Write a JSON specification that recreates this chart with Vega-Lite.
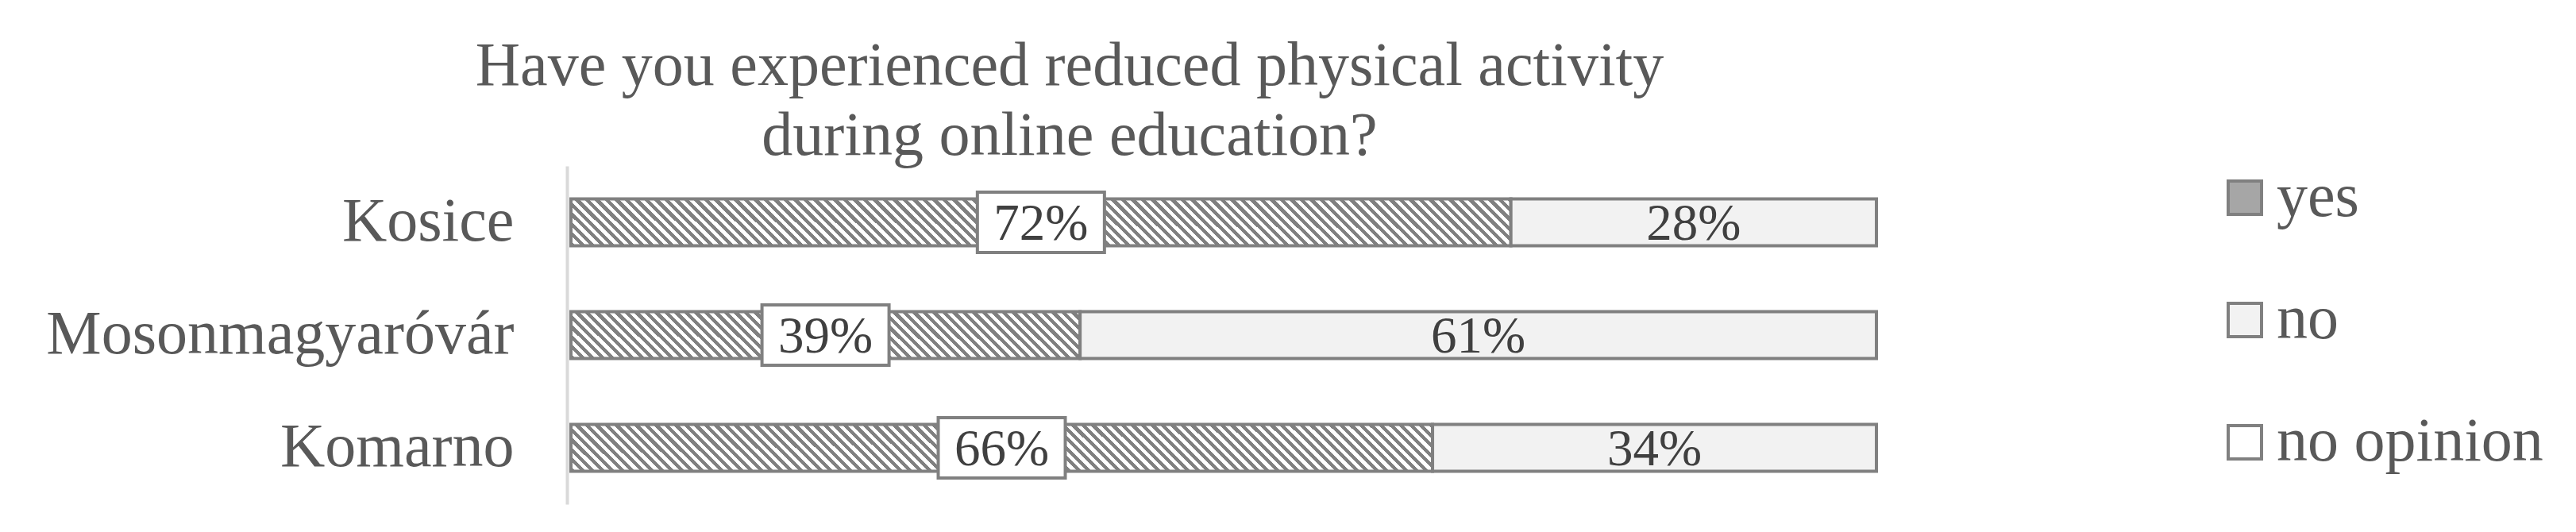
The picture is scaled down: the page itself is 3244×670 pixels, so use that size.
{
  "$schema": "https://vega.github.io/schema/vega-lite/v6.json",
  "width": 1644,
  "height": 426,
  "autosize": {"type": "none"},
  "padding": {"left": 719, "top": 209, "right": 881, "bottom": 35},
  "background": "white",
  "config": {"view": {"stroke": null}, "font": "Liberation Serif"},
  "title": {
    "text": ["Have you experienced reduced physical activity", "during online education?"],
    "fontSize": 78,
    "font": "Liberation Serif",
    "fontWeight": "normal",
    "color": "#595959",
    "anchor": "middle",
    "frame": "group",
    "dx": -194,
    "offset": -2,
    "lineHeight": 88
  },
  "data": {
    "values": [
      {"city": "Kosice", "answer": "yes", "share": 0.72},
      {"city": "Kosice", "answer": "no", "share": 0.28},
      {"city": "Mosonmagyaróvár", "answer": "yes", "share": 0.39},
      {"city": "Mosonmagyaróvár", "answer": "no", "share": 0.61},
      {"city": "Komarno", "answer": "yes", "share": 0.66},
      {"city": "Komarno", "answer": "no", "share": 0.34}
    ]
  },
  "encoding": {
    "y": {
      "field": "city",
      "type": "nominal",
      "sort": null,
      "scale": {"paddingInner": 0.585, "paddingOuter": 0.2925},
      "axis": {
        "title": null,
        "labelFontSize": 78,
        "labelFont": "Liberation Serif",
        "labelColor": "#595959",
        "ticks": false,
        "tickSize": 0,
        "domainColor": "#d9d9d9",
        "domainWidth": 4,
        "offset": 5,
        "labelPadding": 67,
        "labelLimit": 0,
        "grid": false
      }
    },
    "x": {
      "field": "share",
      "type": "quantitative",
      "stack": "zero",
      "scale": {"domain": [0, 1]},
      "axis": null
    },
    "order": {"field": "answer", "sort": "descending"}
  },
  "layer": [
    {
      "mark": {"type": "bar", "stroke": "#808080", "strokeWidth": 4},
      "encoding": {
        "fill": {
          "field": "answer",
          "type": "nominal",
          "condition": [
            {"test": "datum.answer === 'yes' && datum.city === 'Kosice'", "value": {"gradient": "linear", "x1": 0, "y1": 1, "x2": 1.0534, "y2": 0.9475, "stops": [
              {"offset":0,"color":"gray"},{"offset":0.005,"color":"gray"},{"offset":0.005,"color":"#fff"},{"offset":0.01,"color":"#fff"},
              {"offset":0.01,"color":"gray"},{"offset":0.015,"color":"gray"},{"offset":0.015,"color":"#fff"},{"offset":0.02,"color":"#fff"},
              {"offset":0.02,"color":"gray"},{"offset":0.025,"color":"gray"},{"offset":0.025,"color":"#fff"},{"offset":0.03,"color":"#fff"},
              {"offset":0.03,"color":"gray"},{"offset":0.035,"color":"gray"},{"offset":0.035,"color":"#fff"},{"offset":0.04,"color":"#fff"},
              {"offset":0.04,"color":"gray"},{"offset":0.045,"color":"gray"},{"offset":0.045,"color":"#fff"},{"offset":0.05,"color":"#fff"},
              {"offset":0.05,"color":"gray"},{"offset":0.055,"color":"gray"},{"offset":0.055,"color":"#fff"},{"offset":0.06,"color":"#fff"},
              {"offset":0.06,"color":"gray"},{"offset":0.065,"color":"gray"},{"offset":0.065,"color":"#fff"},{"offset":0.07,"color":"#fff"},
              {"offset":0.07,"color":"gray"},{"offset":0.075,"color":"gray"},{"offset":0.075,"color":"#fff"},{"offset":0.08,"color":"#fff"},
              {"offset":0.08,"color":"gray"},{"offset":0.085,"color":"gray"},{"offset":0.085,"color":"#fff"},{"offset":0.09,"color":"#fff"},
              {"offset":0.09,"color":"gray"},{"offset":0.095,"color":"gray"},{"offset":0.095,"color":"#fff"},{"offset":0.1,"color":"#fff"},
              {"offset":0.1,"color":"gray"},{"offset":0.105,"color":"gray"},{"offset":0.105,"color":"#fff"},{"offset":0.11,"color":"#fff"},
              {"offset":0.11,"color":"gray"},{"offset":0.115,"color":"gray"},{"offset":0.115,"color":"#fff"},{"offset":0.12,"color":"#fff"},
              {"offset":0.12,"color":"gray"},{"offset":0.125,"color":"gray"},{"offset":0.125,"color":"#fff"},{"offset":0.13,"color":"#fff"},
              {"offset":0.13,"color":"gray"},{"offset":0.135,"color":"gray"},{"offset":0.135,"color":"#fff"},{"offset":0.14,"color":"#fff"},
              {"offset":0.14,"color":"gray"},{"offset":0.145,"color":"gray"},{"offset":0.145,"color":"#fff"},{"offset":0.15,"color":"#fff"},
              {"offset":0.15,"color":"gray"},{"offset":0.155,"color":"gray"},{"offset":0.155,"color":"#fff"},{"offset":0.16,"color":"#fff"},
              {"offset":0.16,"color":"gray"},{"offset":0.165,"color":"gray"},{"offset":0.165,"color":"#fff"},{"offset":0.17,"color":"#fff"},
              {"offset":0.17,"color":"gray"},{"offset":0.175,"color":"gray"},{"offset":0.175,"color":"#fff"},{"offset":0.18,"color":"#fff"},
              {"offset":0.18,"color":"gray"},{"offset":0.185,"color":"gray"},{"offset":0.185,"color":"#fff"},{"offset":0.19,"color":"#fff"},
              {"offset":0.19,"color":"gray"},{"offset":0.195,"color":"gray"},{"offset":0.195,"color":"#fff"},{"offset":0.2,"color":"#fff"},
              {"offset":0.2,"color":"gray"},{"offset":0.205,"color":"gray"},{"offset":0.205,"color":"#fff"},{"offset":0.21,"color":"#fff"},
              {"offset":0.21,"color":"gray"},{"offset":0.215,"color":"gray"},{"offset":0.215,"color":"#fff"},{"offset":0.22,"color":"#fff"},
              {"offset":0.22,"color":"gray"},{"offset":0.225,"color":"gray"},{"offset":0.225,"color":"#fff"},{"offset":0.23,"color":"#fff"},
              {"offset":0.23,"color":"gray"},{"offset":0.235,"color":"gray"},{"offset":0.235,"color":"#fff"},{"offset":0.24,"color":"#fff"},
              {"offset":0.24,"color":"gray"},{"offset":0.245,"color":"gray"},{"offset":0.245,"color":"#fff"},{"offset":0.25,"color":"#fff"},
              {"offset":0.25,"color":"gray"},{"offset":0.255,"color":"gray"},{"offset":0.255,"color":"#fff"},{"offset":0.26,"color":"#fff"},
              {"offset":0.26,"color":"gray"},{"offset":0.265,"color":"gray"},{"offset":0.265,"color":"#fff"},{"offset":0.27,"color":"#fff"},
              {"offset":0.27,"color":"gray"},{"offset":0.275,"color":"gray"},{"offset":0.275,"color":"#fff"},{"offset":0.28,"color":"#fff"},
              {"offset":0.28,"color":"gray"},{"offset":0.285,"color":"gray"},{"offset":0.285,"color":"#fff"},{"offset":0.29,"color":"#fff"},
              {"offset":0.29,"color":"gray"},{"offset":0.295,"color":"gray"},{"offset":0.295,"color":"#fff"},{"offset":0.3,"color":"#fff"},
              {"offset":0.3,"color":"gray"},{"offset":0.305,"color":"gray"},{"offset":0.305,"color":"#fff"},{"offset":0.31,"color":"#fff"},
              {"offset":0.31,"color":"gray"},{"offset":0.315,"color":"gray"},{"offset":0.315,"color":"#fff"},{"offset":0.32,"color":"#fff"},
              {"offset":0.32,"color":"gray"},{"offset":0.325,"color":"gray"},{"offset":0.325,"color":"#fff"},{"offset":0.33,"color":"#fff"},
              {"offset":0.33,"color":"gray"},{"offset":0.335,"color":"gray"},{"offset":0.335,"color":"#fff"},{"offset":0.34,"color":"#fff"},
              {"offset":0.34,"color":"gray"},{"offset":0.345,"color":"gray"},{"offset":0.345,"color":"#fff"},{"offset":0.35,"color":"#fff"},
              {"offset":0.35,"color":"gray"},{"offset":0.355,"color":"gray"},{"offset":0.355,"color":"#fff"},{"offset":0.36,"color":"#fff"},
              {"offset":0.36,"color":"gray"},{"offset":0.365,"color":"gray"},{"offset":0.365,"color":"#fff"},{"offset":0.37,"color":"#fff"},
              {"offset":0.37,"color":"gray"},{"offset":0.375,"color":"gray"},{"offset":0.375,"color":"#fff"},{"offset":0.38,"color":"#fff"},
              {"offset":0.38,"color":"gray"},{"offset":0.385,"color":"gray"},{"offset":0.385,"color":"#fff"},{"offset":0.39,"color":"#fff"},
              {"offset":0.39,"color":"gray"},{"offset":0.395,"color":"gray"},{"offset":0.395,"color":"#fff"},{"offset":0.4,"color":"#fff"},
              {"offset":0.4,"color":"gray"},{"offset":0.405,"color":"gray"},{"offset":0.405,"color":"#fff"},{"offset":0.41,"color":"#fff"},
              {"offset":0.41,"color":"gray"},{"offset":0.415,"color":"gray"},{"offset":0.415,"color":"#fff"},{"offset":0.42,"color":"#fff"},
              {"offset":0.42,"color":"gray"},{"offset":0.425,"color":"gray"},{"offset":0.425,"color":"#fff"},{"offset":0.43,"color":"#fff"},
              {"offset":0.43,"color":"gray"},{"offset":0.435,"color":"gray"},{"offset":0.435,"color":"#fff"},{"offset":0.44,"color":"#fff"},
              {"offset":0.44,"color":"gray"},{"offset":0.445,"color":"gray"},{"offset":0.445,"color":"#fff"},{"offset":0.45,"color":"#fff"},
              {"offset":0.45,"color":"gray"},{"offset":0.455,"color":"gray"},{"offset":0.455,"color":"#fff"},{"offset":0.46,"color":"#fff"},
              {"offset":0.46,"color":"gray"},{"offset":0.465,"color":"gray"},{"offset":0.465,"color":"#fff"},{"offset":0.47,"color":"#fff"},
              {"offset":0.47,"color":"gray"},{"offset":0.475,"color":"gray"},{"offset":0.475,"color":"#fff"},{"offset":0.48,"color":"#fff"},
              {"offset":0.48,"color":"gray"},{"offset":0.485,"color":"gray"},{"offset":0.485,"color":"#fff"},{"offset":0.49,"color":"#fff"},
              {"offset":0.49,"color":"gray"},{"offset":0.495,"color":"gray"},{"offset":0.495,"color":"#fff"},{"offset":0.5,"color":"#fff"},
              {"offset":0.5,"color":"gray"},{"offset":0.505,"color":"gray"},{"offset":0.505,"color":"#fff"},{"offset":0.51,"color":"#fff"},
              {"offset":0.51,"color":"gray"},{"offset":0.515,"color":"gray"},{"offset":0.515,"color":"#fff"},{"offset":0.52,"color":"#fff"},
              {"offset":0.52,"color":"gray"},{"offset":0.525,"color":"gray"},{"offset":0.525,"color":"#fff"},{"offset":0.53,"color":"#fff"},
              {"offset":0.53,"color":"gray"},{"offset":0.535,"color":"gray"},{"offset":0.535,"color":"#fff"},{"offset":0.54,"color":"#fff"},
              {"offset":0.54,"color":"gray"},{"offset":0.545,"color":"gray"},{"offset":0.545,"color":"#fff"},{"offset":0.55,"color":"#fff"},
              {"offset":0.55,"color":"gray"},{"offset":0.555,"color":"gray"},{"offset":0.555,"color":"#fff"},{"offset":0.56,"color":"#fff"},
              {"offset":0.56,"color":"gray"},{"offset":0.565,"color":"gray"},{"offset":0.565,"color":"#fff"},{"offset":0.57,"color":"#fff"},
              {"offset":0.57,"color":"gray"},{"offset":0.575,"color":"gray"},{"offset":0.575,"color":"#fff"},{"offset":0.58,"color":"#fff"},
              {"offset":0.58,"color":"gray"},{"offset":0.585,"color":"gray"},{"offset":0.585,"color":"#fff"},{"offset":0.59,"color":"#fff"},
              {"offset":0.59,"color":"gray"},{"offset":0.595,"color":"gray"},{"offset":0.595,"color":"#fff"},{"offset":0.6,"color":"#fff"},
              {"offset":0.6,"color":"gray"},{"offset":0.605,"color":"gray"},{"offset":0.605,"color":"#fff"},{"offset":0.61,"color":"#fff"},
              {"offset":0.61,"color":"gray"},{"offset":0.615,"color":"gray"},{"offset":0.615,"color":"#fff"},{"offset":0.62,"color":"#fff"},
              {"offset":0.62,"color":"gray"},{"offset":0.625,"color":"gray"},{"offset":0.625,"color":"#fff"},{"offset":0.63,"color":"#fff"},
              {"offset":0.63,"color":"gray"},{"offset":0.635,"color":"gray"},{"offset":0.635,"color":"#fff"},{"offset":0.64,"color":"#fff"},
              {"offset":0.64,"color":"gray"},{"offset":0.645,"color":"gray"},{"offset":0.645,"color":"#fff"},{"offset":0.65,"color":"#fff"},
              {"offset":0.65,"color":"gray"},{"offset":0.655,"color":"gray"},{"offset":0.655,"color":"#fff"},{"offset":0.66,"color":"#fff"},
              {"offset":0.66,"color":"gray"},{"offset":0.665,"color":"gray"},{"offset":0.665,"color":"#fff"},{"offset":0.67,"color":"#fff"},
              {"offset":0.67,"color":"gray"},{"offset":0.675,"color":"gray"},{"offset":0.675,"color":"#fff"},{"offset":0.68,"color":"#fff"},
              {"offset":0.68,"color":"gray"},{"offset":0.685,"color":"gray"},{"offset":0.685,"color":"#fff"},{"offset":0.69,"color":"#fff"},
              {"offset":0.69,"color":"gray"},{"offset":0.695,"color":"gray"},{"offset":0.695,"color":"#fff"},{"offset":0.7,"color":"#fff"},
              {"offset":0.7,"color":"gray"},{"offset":0.705,"color":"gray"},{"offset":0.705,"color":"#fff"},{"offset":0.71,"color":"#fff"},
              {"offset":0.71,"color":"gray"},{"offset":0.715,"color":"gray"},{"offset":0.715,"color":"#fff"},{"offset":0.72,"color":"#fff"},
              {"offset":0.72,"color":"gray"},{"offset":0.725,"color":"gray"},{"offset":0.725,"color":"#fff"},{"offset":0.73,"color":"#fff"},
              {"offset":0.73,"color":"gray"},{"offset":0.735,"color":"gray"},{"offset":0.735,"color":"#fff"},{"offset":0.74,"color":"#fff"},
              {"offset":0.74,"color":"gray"},{"offset":0.745,"color":"gray"},{"offset":0.745,"color":"#fff"},{"offset":0.75,"color":"#fff"},
              {"offset":0.75,"color":"gray"},{"offset":0.755,"color":"gray"},{"offset":0.755,"color":"#fff"},{"offset":0.76,"color":"#fff"},
              {"offset":0.76,"color":"gray"},{"offset":0.765,"color":"gray"},{"offset":0.765,"color":"#fff"},{"offset":0.77,"color":"#fff"},
              {"offset":0.77,"color":"gray"},{"offset":0.775,"color":"gray"},{"offset":0.775,"color":"#fff"},{"offset":0.78,"color":"#fff"},
              {"offset":0.78,"color":"gray"},{"offset":0.785,"color":"gray"},{"offset":0.785,"color":"#fff"},{"offset":0.79,"color":"#fff"},
              {"offset":0.79,"color":"gray"},{"offset":0.795,"color":"gray"},{"offset":0.795,"color":"#fff"},{"offset":0.8,"color":"#fff"},
              {"offset":0.8,"color":"gray"},{"offset":0.805,"color":"gray"},{"offset":0.805,"color":"#fff"},{"offset":0.81,"color":"#fff"},
              {"offset":0.81,"color":"gray"},{"offset":0.815,"color":"gray"},{"offset":0.815,"color":"#fff"},{"offset":0.82,"color":"#fff"},
              {"offset":0.82,"color":"gray"},{"offset":0.825,"color":"gray"},{"offset":0.825,"color":"#fff"},{"offset":0.83,"color":"#fff"},
              {"offset":0.83,"color":"gray"},{"offset":0.835,"color":"gray"},{"offset":0.835,"color":"#fff"},{"offset":0.84,"color":"#fff"},
              {"offset":0.84,"color":"gray"},{"offset":0.845,"color":"gray"},{"offset":0.845,"color":"#fff"},{"offset":0.85,"color":"#fff"},
              {"offset":0.85,"color":"gray"},{"offset":0.855,"color":"gray"},{"offset":0.855,"color":"#fff"},{"offset":0.86,"color":"#fff"},
              {"offset":0.86,"color":"gray"},{"offset":0.865,"color":"gray"},{"offset":0.865,"color":"#fff"},{"offset":0.87,"color":"#fff"},
              {"offset":0.87,"color":"gray"},{"offset":0.875,"color":"gray"},{"offset":0.875,"color":"#fff"},{"offset":0.88,"color":"#fff"},
              {"offset":0.88,"color":"gray"},{"offset":0.885,"color":"gray"},{"offset":0.885,"color":"#fff"},{"offset":0.89,"color":"#fff"},
              {"offset":0.89,"color":"gray"},{"offset":0.895,"color":"gray"},{"offset":0.895,"color":"#fff"},{"offset":0.9,"color":"#fff"},
              {"offset":0.9,"color":"gray"},{"offset":0.905,"color":"gray"},{"offset":0.905,"color":"#fff"},{"offset":0.91,"color":"#fff"},
              {"offset":0.91,"color":"gray"},{"offset":0.915,"color":"gray"},{"offset":0.915,"color":"#fff"},{"offset":0.92,"color":"#fff"},
              {"offset":0.92,"color":"gray"},{"offset":0.925,"color":"gray"},{"offset":0.925,"color":"#fff"},{"offset":0.93,"color":"#fff"},
              {"offset":0.93,"color":"gray"},{"offset":0.935,"color":"gray"},{"offset":0.935,"color":"#fff"},{"offset":0.94,"color":"#fff"},
              {"offset":0.94,"color":"gray"},{"offset":0.945,"color":"gray"},{"offset":0.945,"color":"#fff"},{"offset":0.95,"color":"#fff"},
              {"offset":0.95,"color":"gray"},{"offset":0.955,"color":"gray"},{"offset":0.955,"color":"#fff"},{"offset":0.96,"color":"#fff"},
              {"offset":0.96,"color":"gray"},{"offset":0.965,"color":"gray"},{"offset":0.965,"color":"#fff"},{"offset":0.97,"color":"#fff"},
              {"offset":0.97,"color":"gray"},{"offset":0.975,"color":"gray"},{"offset":0.975,"color":"#fff"},{"offset":0.98,"color":"#fff"},
              {"offset":0.98,"color":"gray"},{"offset":0.985,"color":"gray"},{"offset":0.985,"color":"#fff"},{"offset":0.99,"color":"#fff"},
              {"offset":0.99,"color":"gray"},{"offset":0.995,"color":"gray"},{"offset":0.995,"color":"#fff"},{"offset":1,"color":"#fff"}]}},
            {"test": "datum.answer === 'yes' && datum.city === 'Komarno'", "value": {"gradient": "linear", "x1": 0, "y1": 1, "x2": 1.1487, "y2": 0.9375, "stops": [
              {"offset":0,"color":"gray"},{"offset":0.005,"color":"gray"},{"offset":0.005,"color":"#fff"},{"offset":0.01,"color":"#fff"},
              {"offset":0.01,"color":"gray"},{"offset":0.015,"color":"gray"},{"offset":0.015,"color":"#fff"},{"offset":0.02,"color":"#fff"},
              {"offset":0.02,"color":"gray"},{"offset":0.025,"color":"gray"},{"offset":0.025,"color":"#fff"},{"offset":0.03,"color":"#fff"},
              {"offset":0.03,"color":"gray"},{"offset":0.035,"color":"gray"},{"offset":0.035,"color":"#fff"},{"offset":0.04,"color":"#fff"},
              {"offset":0.04,"color":"gray"},{"offset":0.045,"color":"gray"},{"offset":0.045,"color":"#fff"},{"offset":0.05,"color":"#fff"},
              {"offset":0.05,"color":"gray"},{"offset":0.055,"color":"gray"},{"offset":0.055,"color":"#fff"},{"offset":0.06,"color":"#fff"},
              {"offset":0.06,"color":"gray"},{"offset":0.065,"color":"gray"},{"offset":0.065,"color":"#fff"},{"offset":0.07,"color":"#fff"},
              {"offset":0.07,"color":"gray"},{"offset":0.075,"color":"gray"},{"offset":0.075,"color":"#fff"},{"offset":0.08,"color":"#fff"},
              {"offset":0.08,"color":"gray"},{"offset":0.085,"color":"gray"},{"offset":0.085,"color":"#fff"},{"offset":0.09,"color":"#fff"},
              {"offset":0.09,"color":"gray"},{"offset":0.095,"color":"gray"},{"offset":0.095,"color":"#fff"},{"offset":0.1,"color":"#fff"},
              {"offset":0.1,"color":"gray"},{"offset":0.105,"color":"gray"},{"offset":0.105,"color":"#fff"},{"offset":0.11,"color":"#fff"},
              {"offset":0.11,"color":"gray"},{"offset":0.115,"color":"gray"},{"offset":0.115,"color":"#fff"},{"offset":0.12,"color":"#fff"},
              {"offset":0.12,"color":"gray"},{"offset":0.125,"color":"gray"},{"offset":0.125,"color":"#fff"},{"offset":0.13,"color":"#fff"},
              {"offset":0.13,"color":"gray"},{"offset":0.135,"color":"gray"},{"offset":0.135,"color":"#fff"},{"offset":0.14,"color":"#fff"},
              {"offset":0.14,"color":"gray"},{"offset":0.145,"color":"gray"},{"offset":0.145,"color":"#fff"},{"offset":0.15,"color":"#fff"},
              {"offset":0.15,"color":"gray"},{"offset":0.155,"color":"gray"},{"offset":0.155,"color":"#fff"},{"offset":0.16,"color":"#fff"},
              {"offset":0.16,"color":"gray"},{"offset":0.165,"color":"gray"},{"offset":0.165,"color":"#fff"},{"offset":0.17,"color":"#fff"},
              {"offset":0.17,"color":"gray"},{"offset":0.175,"color":"gray"},{"offset":0.175,"color":"#fff"},{"offset":0.18,"color":"#fff"},
              {"offset":0.18,"color":"gray"},{"offset":0.185,"color":"gray"},{"offset":0.185,"color":"#fff"},{"offset":0.19,"color":"#fff"},
              {"offset":0.19,"color":"gray"},{"offset":0.195,"color":"gray"},{"offset":0.195,"color":"#fff"},{"offset":0.2,"color":"#fff"},
              {"offset":0.2,"color":"gray"},{"offset":0.205,"color":"gray"},{"offset":0.205,"color":"#fff"},{"offset":0.21,"color":"#fff"},
              {"offset":0.21,"color":"gray"},{"offset":0.215,"color":"gray"},{"offset":0.215,"color":"#fff"},{"offset":0.22,"color":"#fff"},
              {"offset":0.22,"color":"gray"},{"offset":0.225,"color":"gray"},{"offset":0.225,"color":"#fff"},{"offset":0.23,"color":"#fff"},
              {"offset":0.23,"color":"gray"},{"offset":0.235,"color":"gray"},{"offset":0.235,"color":"#fff"},{"offset":0.24,"color":"#fff"},
              {"offset":0.24,"color":"gray"},{"offset":0.245,"color":"gray"},{"offset":0.245,"color":"#fff"},{"offset":0.25,"color":"#fff"},
              {"offset":0.25,"color":"gray"},{"offset":0.255,"color":"gray"},{"offset":0.255,"color":"#fff"},{"offset":0.26,"color":"#fff"},
              {"offset":0.26,"color":"gray"},{"offset":0.265,"color":"gray"},{"offset":0.265,"color":"#fff"},{"offset":0.27,"color":"#fff"},
              {"offset":0.27,"color":"gray"},{"offset":0.275,"color":"gray"},{"offset":0.275,"color":"#fff"},{"offset":0.28,"color":"#fff"},
              {"offset":0.28,"color":"gray"},{"offset":0.285,"color":"gray"},{"offset":0.285,"color":"#fff"},{"offset":0.29,"color":"#fff"},
              {"offset":0.29,"color":"gray"},{"offset":0.295,"color":"gray"},{"offset":0.295,"color":"#fff"},{"offset":0.3,"color":"#fff"},
              {"offset":0.3,"color":"gray"},{"offset":0.305,"color":"gray"},{"offset":0.305,"color":"#fff"},{"offset":0.31,"color":"#fff"},
              {"offset":0.31,"color":"gray"},{"offset":0.315,"color":"gray"},{"offset":0.315,"color":"#fff"},{"offset":0.32,"color":"#fff"},
              {"offset":0.32,"color":"gray"},{"offset":0.325,"color":"gray"},{"offset":0.325,"color":"#fff"},{"offset":0.33,"color":"#fff"},
              {"offset":0.33,"color":"gray"},{"offset":0.335,"color":"gray"},{"offset":0.335,"color":"#fff"},{"offset":0.34,"color":"#fff"},
              {"offset":0.34,"color":"gray"},{"offset":0.345,"color":"gray"},{"offset":0.345,"color":"#fff"},{"offset":0.35,"color":"#fff"},
              {"offset":0.35,"color":"gray"},{"offset":0.355,"color":"gray"},{"offset":0.355,"color":"#fff"},{"offset":0.36,"color":"#fff"},
              {"offset":0.36,"color":"gray"},{"offset":0.365,"color":"gray"},{"offset":0.365,"color":"#fff"},{"offset":0.37,"color":"#fff"},
              {"offset":0.37,"color":"gray"},{"offset":0.375,"color":"gray"},{"offset":0.375,"color":"#fff"},{"offset":0.38,"color":"#fff"},
              {"offset":0.38,"color":"gray"},{"offset":0.385,"color":"gray"},{"offset":0.385,"color":"#fff"},{"offset":0.39,"color":"#fff"},
              {"offset":0.39,"color":"gray"},{"offset":0.395,"color":"gray"},{"offset":0.395,"color":"#fff"},{"offset":0.4,"color":"#fff"},
              {"offset":0.4,"color":"gray"},{"offset":0.405,"color":"gray"},{"offset":0.405,"color":"#fff"},{"offset":0.41,"color":"#fff"},
              {"offset":0.41,"color":"gray"},{"offset":0.415,"color":"gray"},{"offset":0.415,"color":"#fff"},{"offset":0.42,"color":"#fff"},
              {"offset":0.42,"color":"gray"},{"offset":0.425,"color":"gray"},{"offset":0.425,"color":"#fff"},{"offset":0.43,"color":"#fff"},
              {"offset":0.43,"color":"gray"},{"offset":0.435,"color":"gray"},{"offset":0.435,"color":"#fff"},{"offset":0.44,"color":"#fff"},
              {"offset":0.44,"color":"gray"},{"offset":0.445,"color":"gray"},{"offset":0.445,"color":"#fff"},{"offset":0.45,"color":"#fff"},
              {"offset":0.45,"color":"gray"},{"offset":0.455,"color":"gray"},{"offset":0.455,"color":"#fff"},{"offset":0.46,"color":"#fff"},
              {"offset":0.46,"color":"gray"},{"offset":0.465,"color":"gray"},{"offset":0.465,"color":"#fff"},{"offset":0.47,"color":"#fff"},
              {"offset":0.47,"color":"gray"},{"offset":0.475,"color":"gray"},{"offset":0.475,"color":"#fff"},{"offset":0.48,"color":"#fff"},
              {"offset":0.48,"color":"gray"},{"offset":0.485,"color":"gray"},{"offset":0.485,"color":"#fff"},{"offset":0.49,"color":"#fff"},
              {"offset":0.49,"color":"gray"},{"offset":0.495,"color":"gray"},{"offset":0.495,"color":"#fff"},{"offset":0.5,"color":"#fff"},
              {"offset":0.5,"color":"gray"},{"offset":0.505,"color":"gray"},{"offset":0.505,"color":"#fff"},{"offset":0.51,"color":"#fff"},
              {"offset":0.51,"color":"gray"},{"offset":0.515,"color":"gray"},{"offset":0.515,"color":"#fff"},{"offset":0.52,"color":"#fff"},
              {"offset":0.52,"color":"gray"},{"offset":0.525,"color":"gray"},{"offset":0.525,"color":"#fff"},{"offset":0.53,"color":"#fff"},
              {"offset":0.53,"color":"gray"},{"offset":0.535,"color":"gray"},{"offset":0.535,"color":"#fff"},{"offset":0.54,"color":"#fff"},
              {"offset":0.54,"color":"gray"},{"offset":0.545,"color":"gray"},{"offset":0.545,"color":"#fff"},{"offset":0.55,"color":"#fff"},
              {"offset":0.55,"color":"gray"},{"offset":0.555,"color":"gray"},{"offset":0.555,"color":"#fff"},{"offset":0.56,"color":"#fff"},
              {"offset":0.56,"color":"gray"},{"offset":0.565,"color":"gray"},{"offset":0.565,"color":"#fff"},{"offset":0.57,"color":"#fff"},
              {"offset":0.57,"color":"gray"},{"offset":0.575,"color":"gray"},{"offset":0.575,"color":"#fff"},{"offset":0.58,"color":"#fff"},
              {"offset":0.58,"color":"gray"},{"offset":0.585,"color":"gray"},{"offset":0.585,"color":"#fff"},{"offset":0.59,"color":"#fff"},
              {"offset":0.59,"color":"gray"},{"offset":0.595,"color":"gray"},{"offset":0.595,"color":"#fff"},{"offset":0.6,"color":"#fff"},
              {"offset":0.6,"color":"gray"},{"offset":0.605,"color":"gray"},{"offset":0.605,"color":"#fff"},{"offset":0.61,"color":"#fff"},
              {"offset":0.61,"color":"gray"},{"offset":0.615,"color":"gray"},{"offset":0.615,"color":"#fff"},{"offset":0.62,"color":"#fff"},
              {"offset":0.62,"color":"gray"},{"offset":0.625,"color":"gray"},{"offset":0.625,"color":"#fff"},{"offset":0.63,"color":"#fff"},
              {"offset":0.63,"color":"gray"},{"offset":0.635,"color":"gray"},{"offset":0.635,"color":"#fff"},{"offset":0.64,"color":"#fff"},
              {"offset":0.64,"color":"gray"},{"offset":0.645,"color":"gray"},{"offset":0.645,"color":"#fff"},{"offset":0.65,"color":"#fff"},
              {"offset":0.65,"color":"gray"},{"offset":0.655,"color":"gray"},{"offset":0.655,"color":"#fff"},{"offset":0.66,"color":"#fff"},
              {"offset":0.66,"color":"gray"},{"offset":0.665,"color":"gray"},{"offset":0.665,"color":"#fff"},{"offset":0.67,"color":"#fff"},
              {"offset":0.67,"color":"gray"},{"offset":0.675,"color":"gray"},{"offset":0.675,"color":"#fff"},{"offset":0.68,"color":"#fff"},
              {"offset":0.68,"color":"gray"},{"offset":0.685,"color":"gray"},{"offset":0.685,"color":"#fff"},{"offset":0.69,"color":"#fff"},
              {"offset":0.69,"color":"gray"},{"offset":0.695,"color":"gray"},{"offset":0.695,"color":"#fff"},{"offset":0.7,"color":"#fff"},
              {"offset":0.7,"color":"gray"},{"offset":0.705,"color":"gray"},{"offset":0.705,"color":"#fff"},{"offset":0.71,"color":"#fff"},
              {"offset":0.71,"color":"gray"},{"offset":0.715,"color":"gray"},{"offset":0.715,"color":"#fff"},{"offset":0.72,"color":"#fff"},
              {"offset":0.72,"color":"gray"},{"offset":0.725,"color":"gray"},{"offset":0.725,"color":"#fff"},{"offset":0.73,"color":"#fff"},
              {"offset":0.73,"color":"gray"},{"offset":0.735,"color":"gray"},{"offset":0.735,"color":"#fff"},{"offset":0.74,"color":"#fff"},
              {"offset":0.74,"color":"gray"},{"offset":0.745,"color":"gray"},{"offset":0.745,"color":"#fff"},{"offset":0.75,"color":"#fff"},
              {"offset":0.75,"color":"gray"},{"offset":0.755,"color":"gray"},{"offset":0.755,"color":"#fff"},{"offset":0.76,"color":"#fff"},
              {"offset":0.76,"color":"gray"},{"offset":0.765,"color":"gray"},{"offset":0.765,"color":"#fff"},{"offset":0.77,"color":"#fff"},
              {"offset":0.77,"color":"gray"},{"offset":0.775,"color":"gray"},{"offset":0.775,"color":"#fff"},{"offset":0.78,"color":"#fff"},
              {"offset":0.78,"color":"gray"},{"offset":0.785,"color":"gray"},{"offset":0.785,"color":"#fff"},{"offset":0.79,"color":"#fff"},
              {"offset":0.79,"color":"gray"},{"offset":0.795,"color":"gray"},{"offset":0.795,"color":"#fff"},{"offset":0.8,"color":"#fff"},
              {"offset":0.8,"color":"gray"},{"offset":0.805,"color":"gray"},{"offset":0.805,"color":"#fff"},{"offset":0.81,"color":"#fff"},
              {"offset":0.81,"color":"gray"},{"offset":0.815,"color":"gray"},{"offset":0.815,"color":"#fff"},{"offset":0.82,"color":"#fff"},
              {"offset":0.82,"color":"gray"},{"offset":0.825,"color":"gray"},{"offset":0.825,"color":"#fff"},{"offset":0.83,"color":"#fff"},
              {"offset":0.83,"color":"gray"},{"offset":0.835,"color":"gray"},{"offset":0.835,"color":"#fff"},{"offset":0.84,"color":"#fff"},
              {"offset":0.84,"color":"gray"},{"offset":0.845,"color":"gray"},{"offset":0.845,"color":"#fff"},{"offset":0.85,"color":"#fff"},
              {"offset":0.85,"color":"gray"},{"offset":0.855,"color":"gray"},{"offset":0.855,"color":"#fff"},{"offset":0.86,"color":"#fff"},
              {"offset":0.86,"color":"gray"},{"offset":0.865,"color":"gray"},{"offset":0.865,"color":"#fff"},{"offset":0.87,"color":"#fff"},
              {"offset":0.87,"color":"gray"},{"offset":0.875,"color":"gray"},{"offset":0.875,"color":"#fff"},{"offset":0.88,"color":"#fff"},
              {"offset":0.88,"color":"gray"},{"offset":0.885,"color":"gray"},{"offset":0.885,"color":"#fff"},{"offset":0.89,"color":"#fff"},
              {"offset":0.89,"color":"gray"},{"offset":0.895,"color":"gray"},{"offset":0.895,"color":"#fff"},{"offset":0.9,"color":"#fff"},
              {"offset":0.9,"color":"gray"},{"offset":0.905,"color":"gray"},{"offset":0.905,"color":"#fff"},{"offset":0.91,"color":"#fff"},
              {"offset":0.91,"color":"gray"},{"offset":0.915,"color":"gray"},{"offset":0.915,"color":"#fff"},{"offset":0.92,"color":"#fff"}]}},
            {"test": "datum.answer === 'yes' && datum.city === 'Mosonmagyaróvár'", "value": {"gradient": "linear", "x1": 0, "y1": 1, "x2": 1.9332, "y2": 0.8221, "stops": [
              {"offset":0,"color":"gray"},{"offset":0.005,"color":"gray"},{"offset":0.005,"color":"#fff"},{"offset":0.01,"color":"#fff"},
              {"offset":0.01,"color":"gray"},{"offset":0.015,"color":"gray"},{"offset":0.015,"color":"#fff"},{"offset":0.02,"color":"#fff"},
              {"offset":0.02,"color":"gray"},{"offset":0.025,"color":"gray"},{"offset":0.025,"color":"#fff"},{"offset":0.03,"color":"#fff"},
              {"offset":0.03,"color":"gray"},{"offset":0.035,"color":"gray"},{"offset":0.035,"color":"#fff"},{"offset":0.04,"color":"#fff"},
              {"offset":0.04,"color":"gray"},{"offset":0.045,"color":"gray"},{"offset":0.045,"color":"#fff"},{"offset":0.05,"color":"#fff"},
              {"offset":0.05,"color":"gray"},{"offset":0.055,"color":"gray"},{"offset":0.055,"color":"#fff"},{"offset":0.06,"color":"#fff"},
              {"offset":0.06,"color":"gray"},{"offset":0.065,"color":"gray"},{"offset":0.065,"color":"#fff"},{"offset":0.07,"color":"#fff"},
              {"offset":0.07,"color":"gray"},{"offset":0.075,"color":"gray"},{"offset":0.075,"color":"#fff"},{"offset":0.08,"color":"#fff"},
              {"offset":0.08,"color":"gray"},{"offset":0.085,"color":"gray"},{"offset":0.085,"color":"#fff"},{"offset":0.09,"color":"#fff"},
              {"offset":0.09,"color":"gray"},{"offset":0.095,"color":"gray"},{"offset":0.095,"color":"#fff"},{"offset":0.1,"color":"#fff"},
              {"offset":0.1,"color":"gray"},{"offset":0.105,"color":"gray"},{"offset":0.105,"color":"#fff"},{"offset":0.11,"color":"#fff"},
              {"offset":0.11,"color":"gray"},{"offset":0.115,"color":"gray"},{"offset":0.115,"color":"#fff"},{"offset":0.12,"color":"#fff"},
              {"offset":0.12,"color":"gray"},{"offset":0.125,"color":"gray"},{"offset":0.125,"color":"#fff"},{"offset":0.13,"color":"#fff"},
              {"offset":0.13,"color":"gray"},{"offset":0.135,"color":"gray"},{"offset":0.135,"color":"#fff"},{"offset":0.14,"color":"#fff"},
              {"offset":0.14,"color":"gray"},{"offset":0.145,"color":"gray"},{"offset":0.145,"color":"#fff"},{"offset":0.15,"color":"#fff"},
              {"offset":0.15,"color":"gray"},{"offset":0.155,"color":"gray"},{"offset":0.155,"color":"#fff"},{"offset":0.16,"color":"#fff"},
              {"offset":0.16,"color":"gray"},{"offset":0.165,"color":"gray"},{"offset":0.165,"color":"#fff"},{"offset":0.17,"color":"#fff"},
              {"offset":0.17,"color":"gray"},{"offset":0.175,"color":"gray"},{"offset":0.175,"color":"#fff"},{"offset":0.18,"color":"#fff"},
              {"offset":0.18,"color":"gray"},{"offset":0.185,"color":"gray"},{"offset":0.185,"color":"#fff"},{"offset":0.19,"color":"#fff"},
              {"offset":0.19,"color":"gray"},{"offset":0.195,"color":"gray"},{"offset":0.195,"color":"#fff"},{"offset":0.2,"color":"#fff"},
              {"offset":0.2,"color":"gray"},{"offset":0.205,"color":"gray"},{"offset":0.205,"color":"#fff"},{"offset":0.21,"color":"#fff"},
              {"offset":0.21,"color":"gray"},{"offset":0.215,"color":"gray"},{"offset":0.215,"color":"#fff"},{"offset":0.22,"color":"#fff"},
              {"offset":0.22,"color":"gray"},{"offset":0.225,"color":"gray"},{"offset":0.225,"color":"#fff"},{"offset":0.23,"color":"#fff"},
              {"offset":0.23,"color":"gray"},{"offset":0.235,"color":"gray"},{"offset":0.235,"color":"#fff"},{"offset":0.24,"color":"#fff"},
              {"offset":0.24,"color":"gray"},{"offset":0.245,"color":"gray"},{"offset":0.245,"color":"#fff"},{"offset":0.25,"color":"#fff"},
              {"offset":0.25,"color":"gray"},{"offset":0.255,"color":"gray"},{"offset":0.255,"color":"#fff"},{"offset":0.26,"color":"#fff"},
              {"offset":0.26,"color":"gray"},{"offset":0.265,"color":"gray"},{"offset":0.265,"color":"#fff"},{"offset":0.27,"color":"#fff"},
              {"offset":0.27,"color":"gray"},{"offset":0.275,"color":"gray"},{"offset":0.275,"color":"#fff"},{"offset":0.28,"color":"#fff"},
              {"offset":0.28,"color":"gray"},{"offset":0.285,"color":"gray"},{"offset":0.285,"color":"#fff"},{"offset":0.29,"color":"#fff"},
              {"offset":0.29,"color":"gray"},{"offset":0.295,"color":"gray"},{"offset":0.295,"color":"#fff"},{"offset":0.3,"color":"#fff"},
              {"offset":0.3,"color":"gray"},{"offset":0.305,"color":"gray"},{"offset":0.305,"color":"#fff"},{"offset":0.31,"color":"#fff"},
              {"offset":0.31,"color":"gray"},{"offset":0.315,"color":"gray"},{"offset":0.315,"color":"#fff"},{"offset":0.32,"color":"#fff"},
              {"offset":0.32,"color":"gray"},{"offset":0.325,"color":"gray"},{"offset":0.325,"color":"#fff"},{"offset":0.33,"color":"#fff"},
              {"offset":0.33,"color":"gray"},{"offset":0.335,"color":"gray"},{"offset":0.335,"color":"#fff"},{"offset":0.34,"color":"#fff"},
              {"offset":0.34,"color":"gray"},{"offset":0.345,"color":"gray"},{"offset":0.345,"color":"#fff"},{"offset":0.35,"color":"#fff"},
              {"offset":0.35,"color":"gray"},{"offset":0.355,"color":"gray"},{"offset":0.355,"color":"#fff"},{"offset":0.36,"color":"#fff"},
              {"offset":0.36,"color":"gray"},{"offset":0.365,"color":"gray"},{"offset":0.365,"color":"#fff"},{"offset":0.37,"color":"#fff"},
              {"offset":0.37,"color":"gray"},{"offset":0.375,"color":"gray"},{"offset":0.375,"color":"#fff"},{"offset":0.38,"color":"#fff"},
              {"offset":0.38,"color":"gray"},{"offset":0.385,"color":"gray"},{"offset":0.385,"color":"#fff"},{"offset":0.39,"color":"#fff"},
              {"offset":0.39,"color":"gray"},{"offset":0.395,"color":"gray"},{"offset":0.395,"color":"#fff"},{"offset":0.4,"color":"#fff"},
              {"offset":0.4,"color":"gray"},{"offset":0.405,"color":"gray"},{"offset":0.405,"color":"#fff"},{"offset":0.41,"color":"#fff"},
              {"offset":0.41,"color":"gray"},{"offset":0.415,"color":"gray"},{"offset":0.415,"color":"#fff"},{"offset":0.42,"color":"#fff"},
              {"offset":0.42,"color":"gray"},{"offset":0.425,"color":"gray"},{"offset":0.425,"color":"#fff"},{"offset":0.43,"color":"#fff"},
              {"offset":0.43,"color":"gray"},{"offset":0.435,"color":"gray"},{"offset":0.435,"color":"#fff"},{"offset":0.44,"color":"#fff"},
              {"offset":0.44,"color":"gray"},{"offset":0.445,"color":"gray"},{"offset":0.445,"color":"#fff"},{"offset":0.45,"color":"#fff"},
              {"offset":0.45,"color":"gray"},{"offset":0.455,"color":"gray"},{"offset":0.455,"color":"#fff"},{"offset":0.46,"color":"#fff"},
              {"offset":0.46,"color":"gray"},{"offset":0.465,"color":"gray"},{"offset":0.465,"color":"#fff"},{"offset":0.47,"color":"#fff"},
              {"offset":0.47,"color":"gray"},{"offset":0.475,"color":"gray"},{"offset":0.475,"color":"#fff"},{"offset":0.48,"color":"#fff"},
              {"offset":0.48,"color":"gray"},{"offset":0.485,"color":"gray"},{"offset":0.485,"color":"#fff"},{"offset":0.49,"color":"#fff"},
              {"offset":0.49,"color":"gray"},{"offset":0.495,"color":"gray"},{"offset":0.495,"color":"#fff"},{"offset":0.5,"color":"#fff"},
              {"offset":0.5,"color":"gray"},{"offset":0.505,"color":"gray"},{"offset":0.505,"color":"#fff"},{"offset":0.51,"color":"#fff"},
              {"offset":0.51,"color":"gray"},{"offset":0.515,"color":"gray"},{"offset":0.515,"color":"#fff"},{"offset":0.52,"color":"#fff"},
              {"offset":0.52,"color":"gray"},{"offset":0.525,"color":"gray"},{"offset":0.525,"color":"#fff"},{"offset":0.53,"color":"#fff"},
              {"offset":0.53,"color":"gray"},{"offset":0.535,"color":"gray"},{"offset":0.535,"color":"#fff"},{"offset":0.54,"color":"#fff"},
              {"offset":0.54,"color":"gray"},{"offset":0.545,"color":"gray"},{"offset":0.545,"color":"#fff"},{"offset":0.55,"color":"#fff"},
              {"offset":0.55,"color":"gray"},{"offset":0.555,"color":"gray"},{"offset":0.555,"color":"#fff"},{"offset":0.56,"color":"#fff"}]}}
          ],
          "scale": {"domain": ["yes", "no", "no opinion"], "range": ["#a6a6a6", "#f2f2f2", "#ffffff"]},
          "legend": {
            "title": null,
            "orient": "none",
            "legendX": 2069,
            "legendY": 1,
            "labelFontSize": 78,
            "labelFont": "Liberation Serif",
            "labelColor": "#595959",
            "symbolType": "square",
            "symbolSize": 1764,
            "symbolStrokeColor": "#808080",
            "symbolStrokeWidth": 4,
            "symbolOpacity": 1,
            "rowPadding": 76,
            "labelOffset": 1,
            "padding": 0,
            "labelLimit": 0
          }
        }
      }
    },
    {
      "transform": [{"filter": "datum.answer === 'yes'"}],
      "mark": {
        "type": "point",
        "shape": "M-1,-0.475H1V0.475H-1Z",
        "size": 25600,
        "filled": true,
        "fill": "#ffffff",
        "stroke": "#808080",
        "strokeWidth": 4,
        "opacity": 1
      },
      "encoding": {
        "x": {"field": "share", "type": "quantitative", "stack": "zero", "bandPosition": 0.5},
        "detail": {"field": "answer"}
      }
    },
    {
      "mark": {"type": "text", "fontSize": 65, "font": "Liberation Serif", "color": "#404040", "dy": 2},
      "encoding": {
        "x": {"field": "share", "type": "quantitative", "stack": "zero", "bandPosition": 0.5},
        "detail": {"field": "answer"},
        "text": {"field": "share", "type": "quantitative", "format": ".0%"}
      }
    }
  ]
}
